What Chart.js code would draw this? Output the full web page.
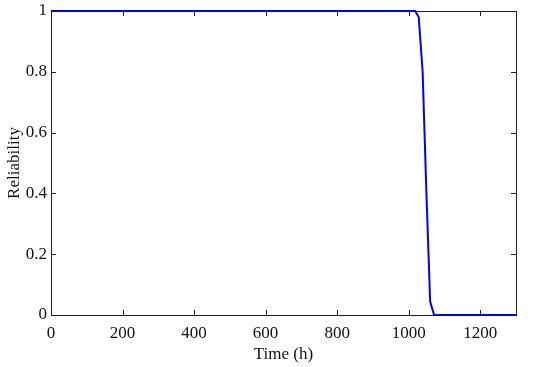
<!DOCTYPE html>
<html>
<head>
<meta charset="utf-8">
<script src="https://cdn.jsdelivr.net/npm/chart.js@4"></script>
<style>
  html, body { margin: 0; padding: 0; background: #fff; }
  #wrap { width: 550px; height: 367px; }
</style>
</head>
<body>
<div id="wrap"><canvas id="myChart" width="550" height="367"></canvas></div>
<script>
// time (h) and reliability
var timeH = [0, 1000, 1018, 1028, 1039, 1049, 1060, 1071, 1300];
var reliability = [1, 1, 1, 0.98, 0.8, 0.42, 0.044, 0, 0];
var xTicks = [0, 200, 400, 600, 800, 1000, 1200];
var yTicks = [0, 0.2, 0.4, 0.6, 0.8, 1];

Chart.defaults.font.family = "'Liberation Serif', 'Times New Roman', serif";

// matlab style box with inward ticks, drawn under the curve
var boxTicks = {
  id: 'boxTicks',
  beforeDatasetsDraw: function (chart) {
    var c = chart.ctx, a = chart.chartArea;
    var xs = chart.scales.x, ys = chart.scales.y;
    c.save();
    c.strokeStyle = '#222';
    c.lineWidth = 1;
    c.beginPath();
    xTicks.forEach(function (v) {
      var px = Math.round(xs.getPixelForValue(v)) + 0.5;
      c.moveTo(px, a.bottom); c.lineTo(px, a.bottom - 5);
      c.moveTo(px, a.top); c.lineTo(px, a.top + 5);
    });
    yTicks.forEach(function (v) {
      var py = Math.round(ys.getPixelForValue(v)) + 0.5;
      c.moveTo(a.left, py); c.lineTo(a.left + 5, py);
      c.moveTo(a.right, py); c.lineTo(a.right - 5, py);
    });
    c.stroke();
    c.strokeRect(Math.round(a.left) + 0.5, Math.round(a.top) + 0.5,
      Math.round(a.right - a.left), Math.round(a.bottom - a.top));
    c.restore();
  }
};

var tickFont = { family: "'Liberation Serif', serif", size: 17 };

var ctx = document.getElementById('myChart').getContext('2d');
var myChart = new Chart(ctx, {
  type: 'line',
  data: {
    datasets: [{
      data: timeH.map(function (t, i) { return {x: t, y: reliability[i]}; }),
      borderColor: '#0000ff',
      borderWidth: 2,
      pointRadius: 0,
      tension: 0,
      fill: false,
      clip: false
    }]
  },
  options: {
    responsive: false,
    animation: false,
    layout: { padding: { left: 4, right: 34, top: 11, bottom: 0 } },
    plugins: { legend: { display: false }, tooltip: { enabled: false } },
    scales: {
      x: {
        type: 'linear',
        min: 0, max: 1300,
        afterBuildTicks: function (s) { s.ticks = xTicks.map(function (v) { return {value: v}; }); },
        afterFit: function (s) { s.height = 52; },
        grid: { display: false, drawTicks: false },
        border: { display: false },
        ticks: { color: '#111', padding: 8, maxRotation: 0, font: tickFont,
          callback: function (v) { return String(v); } },
        title: { display: true, text: 'Time (h)', color: '#111', padding: { top: 0, bottom: 2 }, font: tickFont }
      },
      y: {
        min: 0, max: 1,
        afterBuildTicks: function (s) { s.ticks = yTicks.map(function (v) { return {value: v}; }); },
        afterFit: function (s) { s.width = 47; s.paddingTop = 0; s.paddingBottom = 0; },
        grid: { display: false, drawTicks: false },
        border: { display: false },
        ticks: { color: '#111', padding: 4, font: tickFont,
          callback: function (v) { return String(v); } },
        title: { display: true, text: 'Reliability', color: '#111', padding: { top: 0, bottom: 0 }, font: tickFont }
      }
    }
  },
  plugins: [boxTicks]
});
</script>
</body>
</html>
